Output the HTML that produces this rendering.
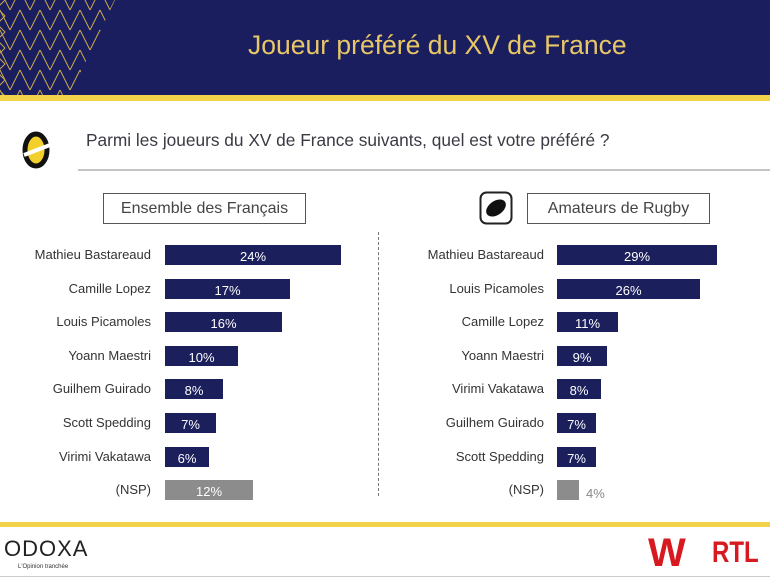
<!DOCTYPE html>
<html><head><meta charset="utf-8"><style>
*{margin:0;padding:0;box-sizing:border-box}
body{width:770px;height:579px;position:relative;background:#fff;font-family:"Liberation Sans",sans-serif;overflow:hidden;color:#333}
.a{position:absolute}
.bar{position:absolute;height:20px;background:#1b1f5c;color:#fff;font-size:13px;text-align:center;line-height:24px}
.lbl{position:absolute;font-size:13px;color:#333;text-align:right;line-height:20px}
</style></head><body>
<div class="a" style="left:0;top:0;width:770px;height:95px;background:#1a1e5e"></div>
<svg class="a" style="left:0;top:0" width="120" height="95">
<defs><clipPath id="c"><polygon points="0,0 115,0 70,95 0,95"/></clipPath></defs>
<g stroke="#c9a94c" stroke-width="1" fill="none" clip-path="url(#c)">
<path d="M5 0 L-3 8 L5 16 L-3 24 L5 32 L-3 40 L5 48 L-3 56 L5 64 L-3 72 L5 80 L-3 88 L5 96" transform="skewX(0)"/>
<g id="z"><path d="M0 -10 L10 10 M0 10 L10 30 M0 30 L10 50 M0 50 L10 70 M0 70 L10 90 M0 90 L10 110 M20 -10 L10 10 M20 10 L10 30 M20 30 L10 50 M20 50 L10 70 M20 70 L10 90 M20 90 L10 110"/></g>
<use href="#z" x="20"/><use href="#z" x="40"/><use href="#z" x="60"/><use href="#z" x="80"/><use href="#z" x="100"/>
</g></svg>
<div class="a" style="left:248px;top:30px;font-size:26.5px;color:#e8c767">Joueur préféré du XV de France</div>
<div class="a" style="left:0;top:95px;width:770px;height:6px;background:#f2d24a"></div>
<svg class="a" style="left:22px;top:123px" width="36" height="54"><ellipse cx="14" cy="27" rx="11" ry="16" fill="#f3cf2b" stroke="#111" stroke-width="5"/><line x1="2" y1="32" x2="28" y2="22" stroke="#fff" stroke-width="4"/></svg>
<div class="a" style="left:86px;top:130px;font-size:17.3px;color:#3a3a44">Parmi les joueurs du XV de France suivants, quel est votre préféré ?</div>
<div class="a" style="left:78px;top:169px;width:692px;height:2px;background:#c4c4c4"></div>
<div class="a" style="left:103px;top:193px;width:203px;height:31px;border:1px solid #555;font-size:16px;text-align:center;line-height:30px;color:#444">Ensemble des Français</div>
<div class="a" style="left:527px;top:193px;width:183px;height:31px;border:1px solid #555;font-size:16px;text-align:center;line-height:30px;color:#444">Amateurs de Rugby</div>
<svg class="a" style="left:479px;top:191px" width="34" height="34"><rect x="1.5" y="1.5" width="31" height="31" rx="6" fill="#fff" stroke="#222" stroke-width="2"/><ellipse cx="17" cy="17" rx="11" ry="7" transform="rotate(-35 17 17)" fill="#111"/></svg>
<div class="a" style="left:378px;top:232px;height:264px;border-left:1px dashed #777"></div>

<div class="lbl" style="left:0;width:151px;top:245px">Mathieu Bastareaud</div><div class="bar" style="left:165px;top:245px;width:176px">24%</div>
<div class="lbl" style="left:0;width:151px;top:279px">Camille Lopez</div><div class="bar" style="left:165px;top:279px;width:125px">17%</div>
<div class="lbl" style="left:0;width:151px;top:312px">Louis Picamoles</div><div class="bar" style="left:165px;top:312px;width:117px">16%</div>
<div class="lbl" style="left:0;width:151px;top:346px">Yoann Maestri</div><div class="bar" style="left:165px;top:346px;width:73px">10%</div>
<div class="lbl" style="left:0;width:151px;top:379px">Guilhem Guirado</div><div class="bar" style="left:165px;top:379px;width:58px">8%</div>
<div class="lbl" style="left:0;width:151px;top:413px">Scott Spedding</div><div class="bar" style="left:165px;top:413px;width:51px">7%</div>
<div class="lbl" style="left:0;width:151px;top:447px">Virimi Vakatawa</div><div class="bar" style="left:165px;top:447px;width:44px">6%</div>
<div class="lbl" style="left:0;width:151px;top:480px">(NSP)</div><div class="bar" style="left:165px;top:480px;width:88px;background:#8c8c8c">12%</div>

<div class="lbl" style="left:380px;width:164px;top:245px">Mathieu Bastareaud</div><div class="bar" style="left:557px;top:245px;width:160px">29%</div>
<div class="lbl" style="left:380px;width:164px;top:279px">Louis Picamoles</div><div class="bar" style="left:557px;top:279px;width:143px">26%</div>
<div class="lbl" style="left:380px;width:164px;top:312px">Camille Lopez</div><div class="bar" style="left:557px;top:312px;width:61px">11%</div>
<div class="lbl" style="left:380px;width:164px;top:346px">Yoann Maestri</div><div class="bar" style="left:557px;top:346px;width:50px">9%</div>
<div class="lbl" style="left:380px;width:164px;top:379px">Virimi Vakatawa</div><div class="bar" style="left:557px;top:379px;width:44px">8%</div>
<div class="lbl" style="left:380px;width:164px;top:413px">Guilhem Guirado</div><div class="bar" style="left:557px;top:413px;width:39px">7%</div>
<div class="lbl" style="left:380px;width:164px;top:447px">Scott Spedding</div><div class="bar" style="left:557px;top:447px;width:39px">7%</div>
<div class="lbl" style="left:380px;width:164px;top:480px">(NSP)</div><div class="bar" style="left:557px;top:480px;width:22px;background:#8c8c8c"></div>
<div class="a" style="left:586px;top:486px;font-size:13px;color:#888">4%</div>

<div class="a" style="left:0;top:522px;width:770px;height:5px;background:#f2d24a"></div>
<div class="a" style="left:4px;top:536px;font-size:22px;color:#222;letter-spacing:1px">ODOXA</div>
<div class="a" style="left:18px;top:564px;font-size:6px;color:#333">L'Opinion tranchée</div>
<div class="a" style="left:648px;top:533px;font-size:40px;font-weight:bold;color:#d71920;line-height:40px">W</div>
<div class="a" style="left:712px;top:536px;font-size:30px;font-weight:bold;color:#d71920;transform:scaleX(0.8);transform-origin:left">RTL</div>
<div class="a" style="left:0;top:576px;width:770px;height:1px;background:#ccc"></div>
</body></html>
